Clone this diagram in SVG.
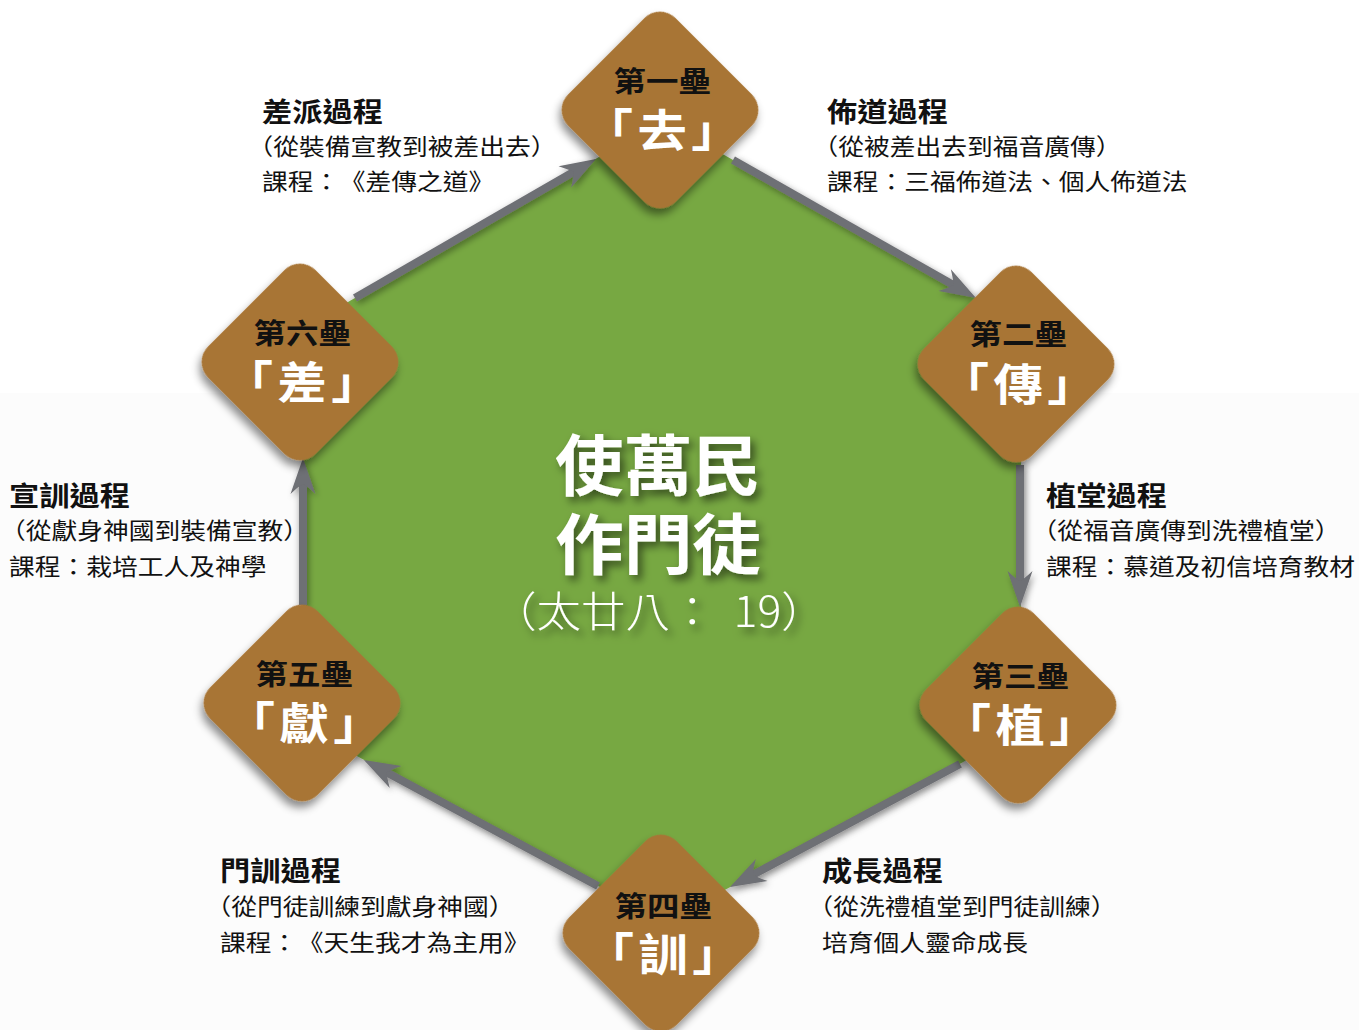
<svg xmlns="http://www.w3.org/2000/svg" width="1359" height="1030" viewBox="0 0 1359 1030">
<defs>
<style>
.t{font-family:"Noto Sans CJK TC","Noto Sans CJK SC",sans-serif;dominant-baseline:central}
.h{font-size:27px;font-weight:700;fill:#111}
.s{font-size:23px;fill:#111}
.nt{font-size:29px;font-weight:700;fill:#111;text-anchor:middle}
.nb{font-size:44px;font-weight:700;fill:#fff;text-anchor:middle}
.dia{fill:#A87536;filter:url(#dsh)}
.conn{stroke:#6E6F74;stroke-width:8;fill:none;marker-end:url(#ah)}
.big{font-size:66px;font-weight:700;fill:#fff;text-anchor:middle;filter:url(#tsh)}
.ref{font-size:42px;font-weight:300;fill:#fff;filter:url(#tsh)}
</style>
<filter id="dsh" x="-30%" y="-30%" width="160%" height="160%"><feDropShadow dx="3" dy="6" stdDeviation="4" flood-color="#000" flood-opacity="0.45"/></filter>
<filter id="hsh" x="-10%" y="-10%" width="120%" height="120%"><feDropShadow dx="0" dy="3" stdDeviation="6" flood-color="#000" flood-opacity="0.35"/></filter>
<filter id="ash" x="-20%" y="-20%" width="140%" height="140%"><feDropShadow dx="2" dy="3" stdDeviation="3" flood-color="#000" flood-opacity="0.35"/></filter>
<filter id="tsh" x="-20%" y="-30%" width="140%" height="160%"><feDropShadow dx="4" dy="5" stdDeviation="4" flood-color="#000" flood-opacity="0.55"/></filter>
<marker id="ah" markerUnits="userSpaceOnUse" viewBox="-15 -15 45 30" markerWidth="45" markerHeight="30" refX="0" refY="0" orient="auto" overflow="visible">
<path d="M24 0 L-12 -12.5 Q-4 -4 -2 0 Q-4 4 -12 12.5 Z" fill="#6E6F74"/>
</marker>
</defs>
<rect x="0" y="0" width="1359" height="1030" fill="#fff"/>
<rect x="0" y="393" width="1359" height="637" fill="#fcfcfc"/>
<polygon id="hexagon" points="663,120 1021,324 1021,731 665,922 303,727 303,328" fill="#77A843" filter="url(#hsh)"/>
<g id="connectors" filter="url(#ash)">
<line class="conn" x1="355" y1="298" x2="575.2" y2="171"/>
<line class="conn" x1="733" y1="160" x2="955.1" y2="286.1"/>
<line class="conn" x1="1020" y1="465" x2="1020" y2="583"/>
<line class="conn" x1="960" y1="764" x2="751.2" y2="875.7"/>
<line class="conn" x1="598" y1="886" x2="385.1" y2="771.4"/>
<line class="conn" x1="303" y1="605" x2="303" y2="482"/>
</g>
<g id="node1" transform="translate(660 110)">
<rect class="dia" x="-76" y="-76" width="152" height="152" rx="22" transform="rotate(45)"/>
<g transform="scale(1.12 1)"><text class="t nt" x="2" y="-31">第一壘</text><text class="t nb" x="2" y="17">「<tspan dx="4">去</tspan><tspan dx="4">」</tspan></text></g>
</g>
<g id="node2" transform="translate(1016 364)">
<rect class="dia" x="-76" y="-76" width="152" height="152" rx="22" transform="rotate(45)"/>
<g transform="scale(1.12 1)"><text class="t nt" x="2" y="-32">第二壘</text><text class="t nb" x="2" y="17">「<tspan dx="4">傳</tspan><tspan dx="4">」</tspan></text></g>
</g>
<g id="node3" transform="translate(1018 705)">
<rect class="dia" x="-76" y="-76" width="152" height="152" rx="22" transform="rotate(45)"/>
<g transform="scale(1.12 1)"><text class="t nt" x="2" y="-31">第三壘</text><text class="t nb" x="2" y="17">「<tspan dx="4">植</tspan><tspan dx="4">」</tspan></text></g>
</g>
<g id="node4" transform="translate(661 933)">
<rect class="dia" x="-76" y="-76" width="152" height="152" rx="22" transform="rotate(45)"/>
<g transform="scale(1.12 1)"><text class="t nt" x="2" y="-29">第四壘</text><text class="t nb" x="2" y="18">「<tspan dx="4">訓</tspan><tspan dx="4">」</tspan></text></g>
</g>
<g id="node5" transform="translate(302 703)">
<rect class="dia" x="-76" y="-76" width="152" height="152" rx="22" transform="rotate(45)"/>
<g transform="scale(1.12 1)"><text class="t nt" x="2" y="-31">第五壘</text><text class="t nb" x="2" y="17">「<tspan dx="4">獻</tspan><tspan dx="4">」</tspan></text></g>
</g>
<g id="node6" transform="translate(300 362)">
<rect class="dia" x="-76" y="-76" width="152" height="152" rx="22" transform="rotate(45)"/>
<g transform="scale(1.12 1)"><text class="t nt" x="2" y="-31">第六壘</text><text class="t nb" x="2" y="17">「<tspan dx="4">差</tspan><tspan dx="4">」</tspan></text></g>
</g>
<g id="center">
<g transform="translate(658 0) scale(1.04 1)">
<text class="t big" x="0" y="461">使萬民</text>
<text class="t big" x="0" y="540">作門徒</text>
</g>
<g transform="translate(492 0) scale(1.06 1)">
<text class="t ref" x="0" y="609">（太廿八：<tspan dx="18">19</tspan>）</text>
</g>
</g>
<g id="label-send" transform="translate(262 0) scale(1.12 1)">
<text class="t h" x="0" y="110">差派過程</text>
<text class="t s" x="-13" y="145">（從裝備宣教到被差出去）</text>
<text class="t s" x="0" y="180">課程：<tspan dx="12">《差傳之道》</tspan></text>
</g>
<g id="label-preach" transform="translate(827 0) scale(1.12 1)">
<text class="t h" x="0" y="110">佈道過程</text>
<text class="t s" x="-13" y="145">（從被差出去到福音廣傳）</text>
<text class="t s" x="0" y="180">課程：三福佈道法、個人佈道法</text>
</g>
<g id="label-equip" transform="translate(9 0) scale(1.12 1)">
<text class="t h" x="0" y="494">宣訓過程</text>
<text class="t s" x="-8" y="529">（從獻身神國到裝備宣教）</text>
<text class="t s" x="0" y="565">課程：栽培工人及神學</text>
</g>
<g id="label-plant" transform="translate(1046 0) scale(1.12 1)">
<text class="t h" x="0" y="494">植堂過程</text>
<text class="t s" x="-13" y="529">（從福音廣傳到洗禮植堂）</text>
<text class="t s" x="0" y="565">課程：慕道及初信培育教材</text>
</g>
<g id="label-disciple" transform="translate(220 0) scale(1.12 1)">
<text class="t h" x="0" y="869">門訓過程</text>
<text class="t s" x="-13" y="905">（從門徒訓練到獻身神國）</text>
<text class="t s" x="0" y="941">課程：<tspan dx="12">《天生我才為主用》</tspan></text>
</g>
<g id="label-grow" transform="translate(822 0) scale(1.12 1)">
<text class="t h" x="0" y="869">成長過程</text>
<text class="t s" x="-13" y="905">（從洗禮植堂到門徒訓練）</text>
<text class="t s" x="0" y="941">培育個人靈命成長</text>
</g>
</svg>
